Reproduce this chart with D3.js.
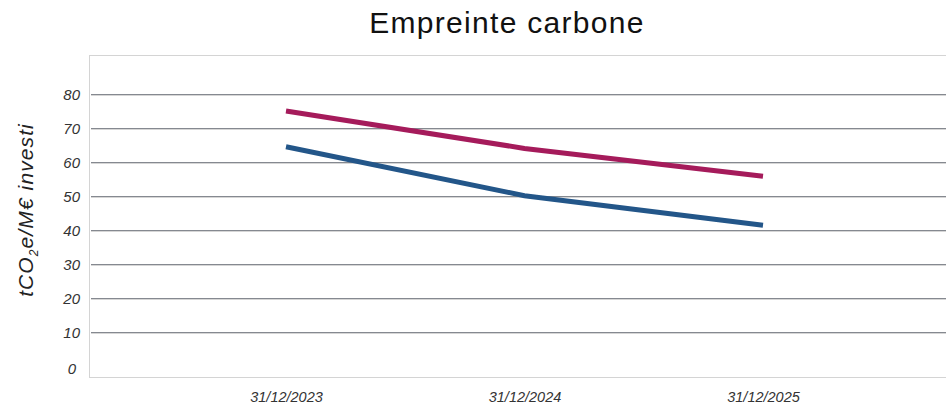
<!DOCTYPE html>
<html>
<head>
<meta charset="utf-8">
<script src="https://cdn.jsdelivr.net/npm/d3@7"></script>
<style>
  body { margin: 0; background: #fff; }
  svg { display: block; }
</style>
</head>
<body>
<script>
"use strict";

// data
const dates = ["31/12/2023", "31/12/2024", "31/12/2025"];
const serieMagenta = [75, 64, 55.8];
const serieBleu = [64.5, 50.1, 41.4];
const yTicks = [0, 10, 20, 30, 40, 50, 60, 70, 80];

const width = 946;
const height = 410;

const svg = d3.select("body")
  .append("svg")
  .attr("width", width)
  .attr("height", height);

// plot frame
const frame = { left: 89.5, top: 55.5, right: 960, bottom: 377.5 };

const x = d3.scalePoint()
  .domain(dates)
  .range([286, 763]);

const y = d3.scaleLinear()
  .domain([0, 80])
  .range([366, 94]);

svg.append("rect")
  .attr("x", frame.left)
  .attr("y", frame.top)
  .attr("width", frame.right - frame.left)
  .attr("height", frame.bottom - frame.top)
  .attr("fill", "none")
  .attr("stroke", "#d4d4d4")
  .attr("stroke-width", 1);

// gridlines (dark line with a light one under it)
const grid = svg.append("g");
const gridVals = yTicks.filter((d) => d > 0);
grid.selectAll("line.dark")
  .data(gridVals)
  .join("line")
  .attr("class", "dark")
  .attr("x1", 91).attr("x2", width)
  .attr("y1", (d) => Math.round(y(d)) + 0.5)
  .attr("y2", (d) => Math.round(y(d)) + 0.5)
  .attr("stroke", "#858990");
grid.selectAll("line.light")
  .data(gridVals)
  .join("line")
  .attr("class", "light")
  .attr("x1", 91).attr("x2", width)
  .attr("y1", (d) => Math.round(y(d)) + 1.5)
  .attr("y2", (d) => Math.round(y(d)) + 1.5)
  .attr("stroke", "#d6d6d6");

// y axis labels
const yAxis = d3.axisLeft(y).tickValues(yTicks).tickSize(0).tickPadding(0);
svg.append("g")
  .attr("transform", "translate(80,0)")
  .call(yAxis)
  .call((g) => g.select(".domain").remove())
  .call((g) => g.selectAll("text")
    .attr("dy", "0.36em")
    .attr("font-family", "Liberation Sans, Arial, sans-serif")
    .attr("font-style", "italic")
    .attr("font-size", 15)
    .attr("fill", "#333"))
  .call((g) => g.selectAll(".tick").filter((d) => d === 0)
    .select("text").attr("x", -4).attr("dy", "0.5em"));

// x axis labels
const xAxis = d3.axisBottom(x).tickSize(0).tickPadding(0);
svg.append("g")
  .attr("transform", "translate(0,392)")
  .call(xAxis)
  .call((g) => g.select(".domain").remove())
  .call((g) => g.selectAll("text")
    .attr("dy", "0.71em")
    .attr("font-family", "Liberation Sans, Arial, sans-serif")
    .attr("font-style", "italic")
    .attr("font-size", 14.5)
    .attr("fill", "#333"));

// lines
const line = d3.line()
  .x((d, i) => x(dates[i]))
  .y((d) => y(d));

const series = [
  { values: serieMagenta, color: "#a51b5b" },
  { values: serieBleu, color: "#235689" }
];

svg.append("g")
  .selectAll("path")
  .data(series)
  .join("path")
  .attr("d", (d) => line(d.values))
  .attr("fill", "none")
  .attr("stroke", (d) => d.color)
  .attr("stroke-width", 5);

// title
svg.append("text")
  .attr("x", 507)
  .attr("y", 33)
  .attr("text-anchor", "middle")
  .attr("font-family", "Liberation Sans, Arial, sans-serif")
  .attr("font-size", 30)
  .attr("letter-spacing", 1.3)
  .attr("fill", "#111")
  .text("Empreinte carbone");

// y axis title
const yTitle = svg.append("text")
  .attr("transform", "translate(33,210) rotate(-90)")
  .attr("text-anchor", "middle")
  .attr("font-family", "Liberation Sans, Arial, sans-serif")
  .attr("font-style", "italic")
  .attr("font-size", 21)
  .attr("letter-spacing", 1.1)
  .attr("fill", "#222");
yTitle.append("tspan").text("tCO");
yTitle.append("tspan").attr("font-size", 12).attr("dy", 5).text("2");
yTitle.append("tspan").attr("dy", -5).text("e/M€ investi");
</script>
</body>
</html>
